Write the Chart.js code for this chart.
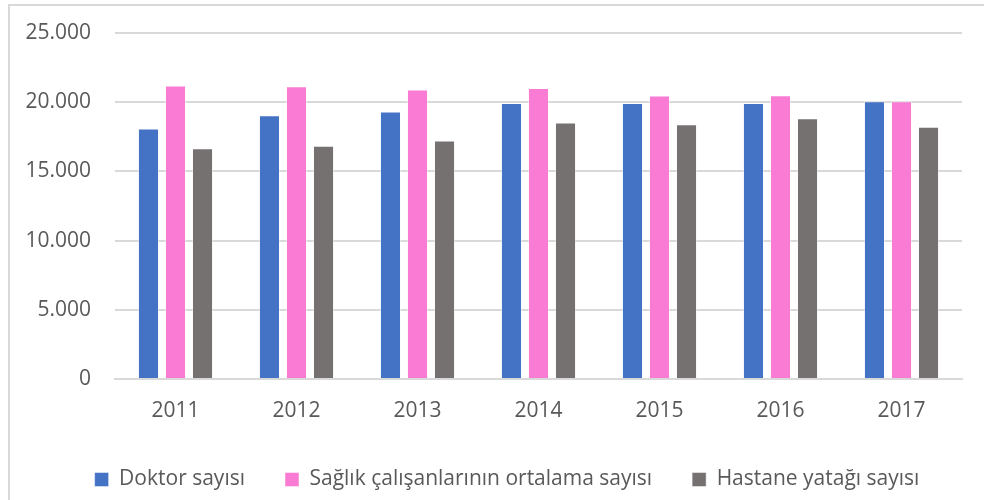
<!DOCTYPE html>
<html>
<head>
<meta charset="utf-8">
<script src="https://cdn.jsdelivr.net/npm/chart.js@4/dist/chart.umd.min.js"></script>
<style>
    html, body { margin: 0; padding: 0; background: #fff; }
    #wrap { position: relative; width: 984px; height: 500px; overflow: hidden; }
    #frame { position: absolute; left: 8px; top: 4px; width: 990px; height: 510px;
             border-left: 2px solid #d9d9d9; border-top: 2px solid #d9d9d9; }
    canvas { position: absolute; left: 0; top: 0; }
</style>
</head>
<body>
<div id="wrap">
    <div id="frame"></div>
    <canvas id="chart" width="984" height="500"></canvas>
</div>
<script>
// dados do gráfico
const yillar = ['2011', '2012', '2013', '2014', '2015', '2016', '2017'];
const doktorSayisi = [18100, 19050, 19330, 19950, 19950, 19950, 20070];
const saglikCalisanlari = [21200, 21160, 20920, 21020, 20490, 20510, 20070];
const hastaneYatagi = [16680, 16860, 17230, 18530, 18400, 18840, 18220];
const yTickLabels = ['0', '5.000', '10.000', '15.000', '20.000', '25.000'];

const FONT = "'Open Sans', sans-serif";
const TEXT_COLOR = '#595959';

Chart.defaults.font.family = FONT;
Chart.defaults.color = TEXT_COLOR;

// desloca a legenda um pouco para a direita, como no original
const legendShift = {
    id: 'legendShift',
    afterLayout(chart) {
        chart.legend.left += 26;
        chart.legend.right += 26;
    }
};

const ctx = document.getElementById('chart').getContext('2d');
const chart = new Chart(ctx, {
    type: 'bar',
    data: {
        labels: yillar,
        datasets: [
            {
                label: 'Doktor sayısı',
                data: doktorSayisi,
                backgroundColor: '#4472c4',
                borderColor: 'rgba(255,255,255,0.45)',
                borderWidth: 1
            },
            {
                label: 'Sağlık çalışanlarının ortalama sayısı',
                data: saglikCalisanlari,
                backgroundColor: '#f97bd4',
                borderColor: 'rgba(255,255,255,0.45)',
                borderWidth: 1
            },
            {
                label: 'Hastane yatağı sayısı',
                data: hastaneYatagi,
                backgroundColor: '#767171',
                borderColor: 'rgba(255,255,255,0.45)',
                borderWidth: 1
            }
        ]
    },
    options: {
        responsive: false,
        animation: false,
        categoryPercentage: 0.67,
        barPercentage: 0.78,
        layout: {
            padding: { left: 0, right: 22, top: 33, bottom: 0 }
        },
        plugins: {
            tooltip: { enabled: false },
            legend: {
                position: 'bottom',
                labels: {
                    boxWidth: 14,
                    boxHeight: 14,
                    padding: 40,
                    font: { size: 21, family: FONT },
                    color: TEXT_COLOR
                }
            }
        },
        scales: {
            x: {
                grid: { display: false, drawTicks: false },
                border: { color: '#d9d9d9', width: 2 },
                ticks: { padding: 19, font: { size: 21, family: FONT }, color: TEXT_COLOR },
                afterFit: (scale) => { scale.height = 50; }
            },
            y: {
                min: 0,
                max: 25000,
                ticks: {
                    stepSize: 5000,
                    padding: 24,
                    font: { size: 21, family: FONT },
                    color: TEXT_COLOR,
                    callback: (value, index) => yTickLabels[index]
                },
                grid: { color: '#d9d9d9', lineWidth: 2, drawTicks: false },
                border: { display: false },
                afterFit: (scale) => {
                    scale.width = 115;
                    scale.paddingTop = 0;
                    scale.paddingBottom = 0;
                }
            }
        }
    },
    plugins: [legendShift]
});
</script>
</body>
</html>
